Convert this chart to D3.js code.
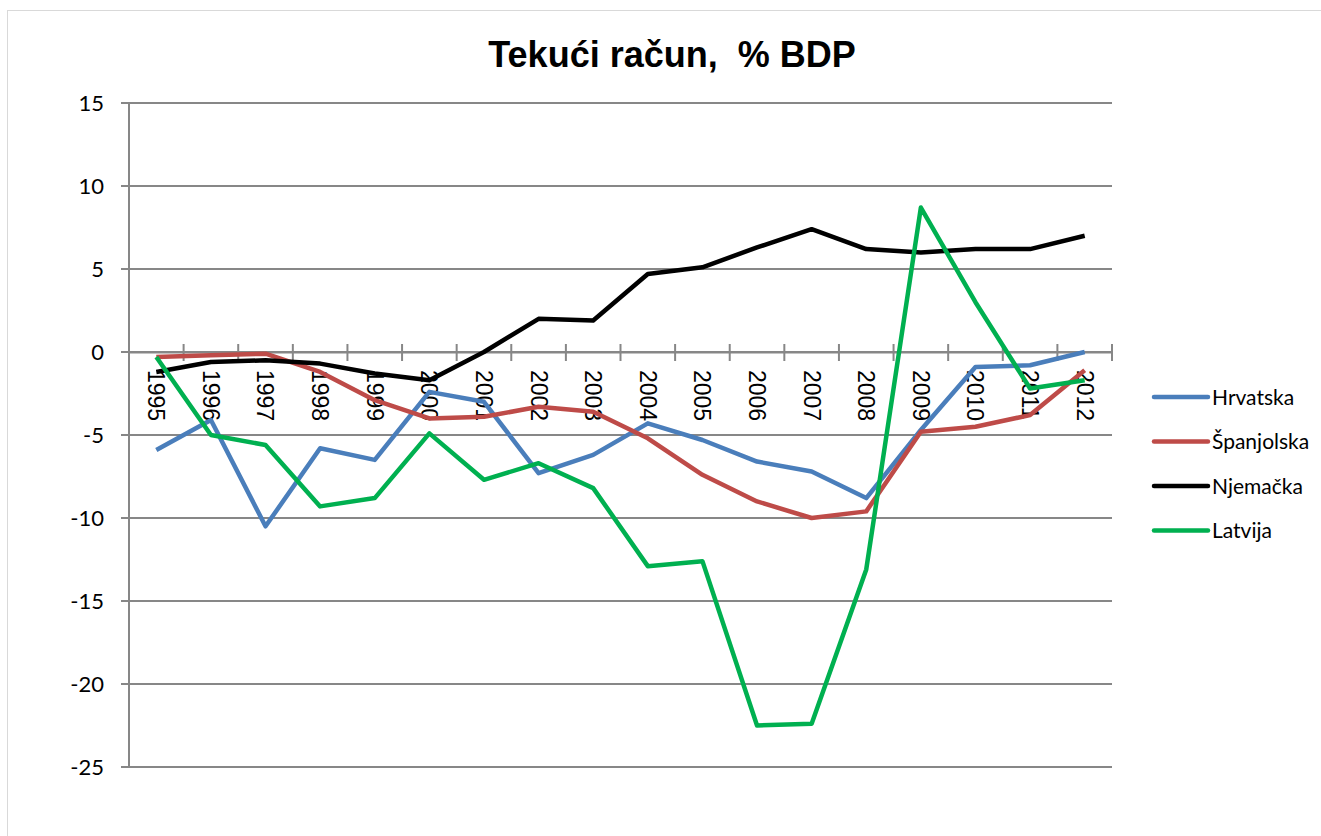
<!DOCTYPE html>
<html>
<head>
<meta charset="utf-8">
<script src="https://cdn.jsdelivr.net/npm/d3@7"></script>
<style>
  body { margin: 0; background: #fff; }
  svg { display: block; }
</style>
</head>
<body>
<svg id="chart" width="1321" height="836"></svg>
<script>
/** Categories (years) */
var years = ['1995', '1996', '1997', '1998', '1999', '2000', '2001', '2002', '2003',
             '2004', '2005', '2006', '2007', '2008', '2009', '2010', '2011', '2012'];

/** Series values */
var hrvatska   = [-5.9, -4.1, -10.5, -5.8, -6.5, -2.4, -3.0, -7.3, -6.2, -4.3, -5.3, -6.6, -7.2, -8.8, -4.7, -0.9, -0.8, 0.0];
var spanjolska = [-0.3, -0.2, -0.1, -1.2, -2.9, -4.0, -3.9, -3.3, -3.6, -5.2, -7.4, -9.0, -10.0, -9.6, -4.8, -4.5, -3.8, -1.1];
var njemacka   = [-1.2, -0.6, -0.5, -0.7, -1.3, -1.7, 0.0, 2.0, 1.9, 4.7, 5.1, 6.3, 7.4, 6.2, 6.0, 6.2, 6.2, 7.0];
var latvija    = [-0.3, -5.0, -5.6, -9.3, -8.8, -4.9, -7.7, -6.7, -8.2, -12.9, -12.6, -22.5, -22.4, -13.1, 8.7, 3.0, -2.2, -1.7];

/** Series names and y ticks */
var seriesNames = ['Hrvatska', 'Španjolska', 'Njemačka', 'Latvija'];
var yTicks = [15, 10, 5, 0, -5, -10, -15, -20, -25];
var chartTitle = 'Tekući račun,  % BDP';

/** Sizing */
var width = 1321,
    height = 836,
    plotLeft = 129,
    plotRight = 1112,
    plotTop = 103,
    plotBottom = 767;

var colors = ['#4a7ebb', '#be4b48', '#000000', '#00b050'];
var gridColor = '#878787';

var series = [hrvatska, spanjolska, njemacka, latvija].map(function(vals, i) {
  return { name: seriesNames[i], values: vals, color: colors[i] };
});

var svg = d3.select('#chart');

// outer chart border
svg.append('rect')
  .attr('x', 7.5).attr('y', 10.5)
  .attr('width', width).attr('height', height)
  .attr('fill', 'none')
  .attr('stroke', '#d9d9d9')
  .attr('stroke-width', 1);

/** Scales */
var x = d3.scaleBand()
  .domain(years)
  .range([plotLeft, plotRight]);

var y = d3.scaleLinear()
  .domain([-25, 15])
  .range([plotBottom, plotTop]);

// Title
svg.append('text')
  .attr('x', 672)
  .attr('y', 67)
  .attr('text-anchor', 'middle')
  .style('font-family', '"Liberation Sans", Arial, sans-serif')
  .style('font-weight', 'bold')
  .style('font-size', '36px')
  .style('white-space', 'pre')
  .attr('xml:space', 'preserve')
  .text(chartTitle);

// horizontal gridlines (with tick stubs to the left)
svg.append('g')
  .selectAll('line')
  .data(yTicks)
  .enter().append('line')
  .attr('x1', plotLeft - 8)
  .attr('x2', plotRight)
  .attr('y1', function(d) { return y(d); })
  .attr('y2', function(d) { return y(d); })
  .attr('stroke', gridColor)
  .attr('stroke-width', 2);

// y axis line
svg.append('line')
  .attr('x1', plotLeft).attr('x2', plotLeft)
  .attr('y1', plotTop).attr('y2', plotBottom)
  .attr('stroke', gridColor)
  .attr('stroke-width', 2);

// y tick labels
svg.append('g')
  .selectAll('text')
  .data(yTicks)
  .enter().append('text')
  .attr('x', plotLeft - 25)
  .attr('y', function(d) { return y(d); })
  .attr('dy', '0.36em')
  .attr('text-anchor', 'end')
  .style('font-family', 'Lato, "Open Sans", sans-serif')
  .style('font-size', '22px')
  .text(function(d) { return d; });

// x axis at zero, ticks cross the line at category boundaries
var xAxis = d3.axisBottom(x).tickSize(0).tickFormat('');
svg.append('g')
  .attr('transform', 'translate(0,' + y(0) + ')')
  .call(xAxis)
  .call(function(g) {
    g.select('.domain').attr('stroke', gridColor).attr('stroke-width', 2);
  });

var boundaries = years.map(function(d) { return x(d); }).concat([plotRight]);
svg.append('g')
  .selectAll('line')
  .data(boundaries)
  .enter().append('line')
  .attr('x1', function(d) { return d; })
  .attr('x2', function(d) { return d; })
  .attr('y1', y(0) - 8)
  .attr('y2', y(0) + 9)
  .attr('stroke', gridColor)
  .attr('stroke-width', 2);

// year labels, rotated to read top to bottom
svg.append('g')
  .selectAll('text')
  .data(years)
  .enter().append('text')
  .attr('transform', function(d) {
    return 'translate(' + (x(d) + x.bandwidth() / 2) + ',' + (y(0) + 18) + ') rotate(90)';
  })
  .attr('dy', '0.35em')
  .attr('text-anchor', 'start')
  .style('font-family', '"Liberation Sans", Arial, sans-serif')
  .style('font-size', '23px')
  .text(function(d) { return d; });

/** Lines */
var line = d3.line()
  .x(function(d, i) { return x(years[i]) + x.bandwidth() / 2; })
  .y(function(d) { return y(d); });

svg.append('g')
  .selectAll('path')
  .data(series)
  .enter().append('path')
  .attr('d', function(d) { return line(d.values); })
  .attr('fill', 'none')
  .attr('stroke', function(d) { return d.color; })
  .attr('stroke-width', 4.5)
  .attr('stroke-linejoin', 'round');

/** Legend */
var legend = svg.append('g')
  .selectAll('g')
  .data(series)
  .enter().append('g')
  .attr('transform', function(d, i) { return 'translate(1154,' + (397 + i * 44.5) + ')'; });

legend.append('line')
  .attr('x1', 0).attr('x2', 54)
  .attr('y1', 0).attr('y2', 0)
  .attr('stroke', function(d) { return d.color; })
  .attr('stroke-width', 4.5)
  .attr('stroke-linecap', 'round');

legend.append('text')
  .attr('x', 58)
  .attr('y', 0)
  .attr('dy', '0.36em')
  .style('font-family', 'Lato, "Open Sans", sans-serif')
  .style('font-size', '21px')
  .text(function(d) { return d.name; });
</script>
</body>
</html>
